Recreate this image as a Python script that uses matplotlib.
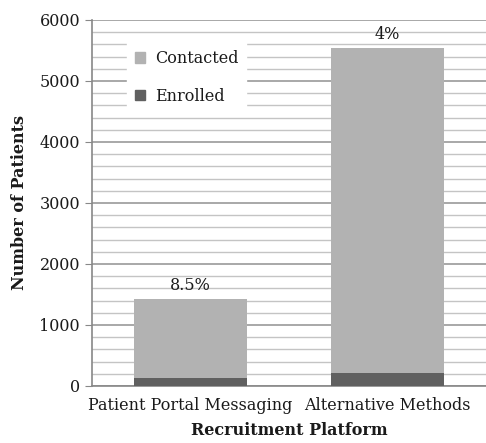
import matplotlib
matplotlib.use("Agg")
import matplotlib.pyplot as plt
from matplotlib.patches import Patch
from matplotlib.ticker import MultipleLocator

categories = ["Patient Portal Messaging", "Alternative Methods"]
contacted = [1426, 5546]
enrolled = [125, 205]
rate_labels = ["8.5%", "4%"]

plt.rcParams['font.family'] = ['DejaVu Serif']

fig = plt.figure(figsize=(4.86, 4.43), dpi=100)
ax = fig.add_axes([0.189, 0.1287, 0.811, 0.8263])

fs = 11.5
tc = "#1a1a1a"
x = range(len(categories))
ax.bar(x, contacted, width=0.57, color="#b2b2b2", zorder=3)
ax.bar(x, enrolled, width=0.57, color="#606060", zorder=4)
for xi, v, lab in zip(x, contacted, rate_labels):
    ax.text(xi, v + 80, lab, ha="center", va="bottom", fontsize=fs, color=tc)

ax.set_xlim(-0.5, 1.5)
ax.set_ylim(0, 6000)
ax.yaxis.set_major_locator(MultipleLocator(1000))
ax.yaxis.set_minor_locator(MultipleLocator(200))
ax.grid(which="major", axis="y", color="#9a9a9a", linewidth=1.2, zorder=0)
ax.grid(which="minor", axis="y", color="#c4c4c4", linewidth=1.0, zorder=0)
ax.tick_params(axis="y", which="minor", length=0)
ax.tick_params(axis="y", which="major", length=5, color="#888888", labelsize=fs, labelcolor=tc)
ax.tick_params(axis="x", length=0, labelsize=fs, pad=8, labelcolor=tc)
ax.set_xticks(list(x))
ax.set_xticklabels(categories)
for s in ["top", "right"]:
    ax.spines[s].set_visible(False)
for s in ["left", "bottom"]:
    ax.spines[s].set_color("#888888")
    ax.spines[s].set_linewidth(1.2)

ax.set_ylabel("Number of Patients", fontsize=fs, fontweight="bold", labelpad=8, color=tc)
ax.set_xlabel("Recruitment Platform", fontsize=fs, fontweight="bold", labelpad=6, color=tc)

handles = [Patch(color="#b2b2b2"), Patch(color="#606060")]
leg = ax.legend(handles, ["Contacted", "Enrolled"], loc="upper left",
                bbox_to_anchor=(0.089, 0.94), frameon=True, fontsize=fs,
                handlelength=0.65, handleheight=0.65, handletextpad=0.6,
                borderpad=0.5, labelspacing=1.3, borderaxespad=0,
                fancybox=False, labelcolor=tc)
leg.get_frame().set_edgecolor("white")
leg.get_frame().set_facecolor("white")
leg.get_frame().set_alpha(1)
leg.set_zorder(5)

fig.savefig("out.png", dpi=100)
